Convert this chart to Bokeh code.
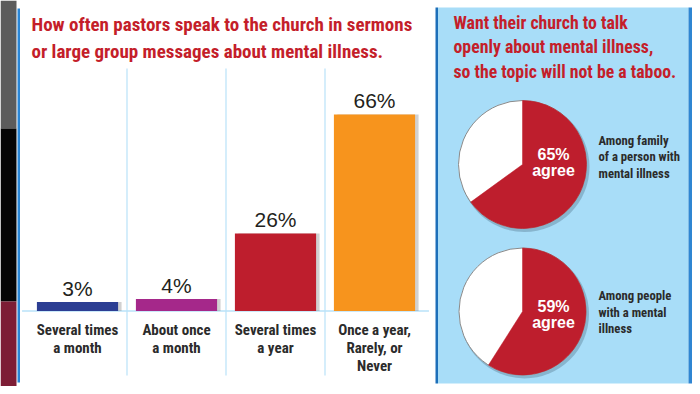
import math
from bokeh.plotting import figure
from bokeh.models import Range1d, ColumnDataSource
from bokeh.core.properties import value
from bokeh.embed import file_html
from bokeh.resources import INLINE

# ---------------- data ----------------
categories = ["Several times\na month", "About once\na month", "Several times\na year",
              "Once a year,\nRarely, or\nNever"]
shares = [3, 4, 26, 66]
bar_colors = ["#2c3e93", "#a5288a", "#be1e2d", "#f7941d"]

left_title = ["How often pastors speak to the church in sermons",
              "or large group messages about mental illness."]
right_title = ["Want their church to talk", "openly about mental illness,",
               "so the topic will not be a taboo."]
pie_groups = ["Among family\nof a person with\nmental illness",
              "Among people\nwith a mental\nillness"]
pie_agree = [65, 59]

# ---------------- layout (pixel coords of the plot canvas) ----------------
W, H = 692, 386
COND = value("'Roboto Condensed', 'DejaVu Sans Condensed', 'Noto Sans Condensed', "
             "'Open Sans Condensed', 'Liberation Sans Narrow', Roboto")
SANS = value("Liberation Sans")
RED_T = "#c41e2a"

p = figure(width=W, height=H, output_backend="svg", toolbar_location=None,
           x_range=Range1d(0, W), y_range=Range1d(-H, 0),
           min_border=0, outline_line_color=None)
p.axis.visible = False
p.grid.visible = False
p.background_fill_color = "white"
p.border_fill_color = "white"

def Y(sy):
    return -sy

# bar scales: extra ranges so the library maps category index / percent to pixels
bar_x0, bar_step = 77, 99          # px of first bar centre, px per category
base_y, px_per_pct = 310.5, 2.977  # px of 0 %, px per percent
p.extra_x_ranges = {"bars": Range1d(-bar_x0 / bar_step, (W - bar_x0) / bar_step)}
p.extra_y_ranges = {"bars": Range1d(-(H - base_y) / px_per_pct, base_y / px_per_pct)}

# left stripe
p.quad(left=[0, 0, 0], right=[16, 16, 16], top=[Y(0), Y(128), Y(301)],
       bottom=[Y(128), Y(301), Y(H)], fill_color=["#5c5c5c", "#050505", "#7d1d35"],
       line_color=None)
# left panel blue side lines
p.quad(left=[17, 435], right=[19.5, 437.5], top=[Y(8), Y(7)], bottom=[Y(382), Y(383)],
       fill_color=["#2a86d6", "#1d6fb9"], line_color=None)
# right panel
p.quad(left=[437.5], right=[688], top=[Y(7)], bottom=[Y(383)],
       fill_color="#a8ddf8", line_color=None)
p.quad(left=[688], right=[692], top=[Y(7)], bottom=[Y(383)],
       fill_color="#2f86d2", line_color=None)

# titles
p.text(x=[31] * len(left_title), y=[Y(23.5), Y(50.5)], text=left_title,
       text_font=COND, text_font_style="bold", text_font_size="19px",
       text_color=RED_T, text_baseline="middle")
p.text(x=[453] * len(right_title), y=[Y(21.5), Y(46), Y(70.5)], text=right_title,
       text_font=COND, text_font_style="bold", text_font_size="17.8px",
       text_color=RED_T, text_baseline="middle")

# ---------------- bar chart ----------------
n = len(categories)
idx = list(range(n))
p.segment(x0=[i + 0.5 for i in idx[:-1]], x1=[i + 0.5 for i in idx[:-1]],
          y0=[(base_y - 68) / px_per_pct] * (n - 1), y1=[(base_y - 375) / px_per_pct] * (n - 1),
          x_range_name="bars", y_range_name="bars", line_color="#b9e2f8", line_width=1.2)
p.segment(x0=[-0.56], x1=[n - 0.45], y0=[0], y1=[0], x_range_name="bars",
          y_range_name="bars", line_color="#b9e2f8", line_width=1.5)

src = ColumnDataSource(dict(x=idx, top=shares, color=bar_colors,
                            label=[f"{v}%" for v in shares],
                            xs=[i + 0.035 for i in idx]))
p.vbar(x="xs", top="top", bottom=0, width=0.82, source=src, x_range_name="bars",
       y_range_name="bars", fill_color="#7a7a7a", fill_alpha=0.35, line_color=None)
p.vbar(x="x", top="top", bottom=0, width=0.82, source=src, x_range_name="bars",
       y_range_name="bars", fill_color="color", line_color=None)
p.text(x="x", y="top", text="label", source=src, x_range_name="bars", y_range_name="bars",
       y_offset=-14, text_align="center", text_baseline="middle",
       text_font=SANS, text_font_size="21px", text_color="#231f20")

# category labels
cx, cy, ct, co = [], [], [], []
for i, c in enumerate(categories):
    for k, line in enumerate(c.split("\n")):
        cx.append(i); cy.append(0); ct.append(line); co.append(18.5 + 18 * k)
p.text(x=cx, y=cy, text=ct, y_offset=co, x_range_name="bars", y_range_name="bars",
       text_align="center", text_baseline="middle", text_font=COND,
       text_font_style="bold", text_font_size="15px", text_color="#2b2b2b")

# ---------------- pies ----------------
pie_cx = [522, 522]
pie_cy = [164, 311]
pie_r = [64, 63.5]
start = math.pi / 2
ends = [start - 2 * math.pi * v / 100 for v in pie_agree]
p.circle(x=[c + 2 for c in pie_cx], y=[Y(c + 2.5) for c in pie_cy], radius=[r + 1 for r in pie_r],
         radius_units="screen", fill_color="#4a6a80", fill_alpha=0.35, line_color=None)
p.circle(x=pie_cx, y=[Y(c) for c in pie_cy], radius=pie_r, radius_units="screen",
         fill_color="white", line_color="#8a8a8a", line_width=1)
p.wedge(x=pie_cx, y=[Y(c) for c in pie_cy], radius=pie_r, radius_units="screen",
        start_angle=[start] * 2, end_angle=ends, direction="clock",
        fill_color="#be1e2d", line_color="#be1e2d", line_width=0.5)

# pie percent texts
pie_txt_y = [[153.5, 169.5], [306, 321.5]]
px_, py_, pt_ = [], [], []
for j, v in enumerate(pie_agree):
    px_ += [553, 553]
    py_ += [Y(pie_txt_y[j][0]), Y(pie_txt_y[j][1])]
    pt_ += [f"{v}%", "agree"]
p.text(x=px_, y=py_, text=pt_, text_align="center", text_baseline="middle",
       text_font=SANS, text_font_style="bold", text_font_size="16px", text_color="white")

# pie side labels
side_y = [[139.5, 156, 172.5], [294.5, 311.5, 327.5]]
gx, gy, gt = [], [], []
for j, g in enumerate(pie_groups):
    for k, line in enumerate(g.split("\n")):
        gx.append(598); gy.append(Y(side_y[j][k])); gt.append(line)
p.text(x=gx, y=gy, text=gt, text_align="left", text_baseline="middle",
       text_font=COND, text_font_style="bold", text_font_size="12.7px", text_color="#2b2b2b")

open("out.html", "w").write(file_html(p, INLINE))
